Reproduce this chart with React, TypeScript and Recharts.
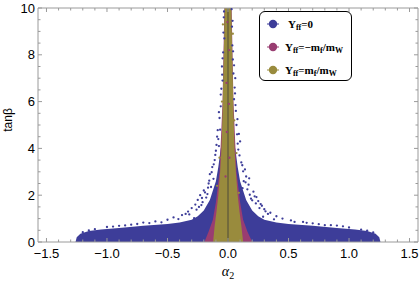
import {
  Area,
  ComposedChart,
  Legend,
  ReferenceLine,
  Scatter,
  XAxis,
  YAxis,
} from "recharts";

const BLUE = "#3d3d99";
const PURPLE = "#993d71";
const OLIVE = "#998b3d";
const FRAME = "#9a9a9a";

// frame ticks
const X_MAJOR = [-1.5, -1, -0.5, 0, 0.5, 1, 1.5];
const X_TICKS = [
  -1.5, -1.4, -1.3, -1.2, -1.1, -1, -0.9, -0.8, -0.7, -0.6, -0.5, -0.4, -0.3,
  -0.2, -0.1, 0, 0.1, 0.2, 0.3, 0.4, 0.5, 0.6, 0.7, 0.8, 0.9, 1, 1.1, 1.2, 1.3,
  1.4, 1.5,
];
const Y_MAJOR = [0, 2, 4, 6, 8, 10];
const Y_TICKS = [
  0, 0.5, 1, 1.5, 2, 2.5, 3, 3.5, 4, 4.5, 5, 5.5, 6, 6.5, 7, 7.5, 8, 8.5, 9,
  9.5, 10,
];

// outline of the dense Y_ff=0 cloud (alpha2, upper tan beta)
const BLUE_X = [
  -1.26, -1.25, -1.22, -1.15, -1.05, -0.9, -0.7, -0.5, -0.4, -0.3, -0.25, -0.2,
  -0.15, -0.1, -0.08, -0.06, 0, 0.06, 0.08, 0.1, 0.15, 0.2, 0.25, 0.3, 0.4,
  0.5, 0.7, 0.9, 1.05, 1.15, 1.22, 1.25, 1.26,
];
const BLUE_Y = [
  0, 0.2, 0.35, 0.47, 0.53, 0.6, 0.69, 0.77, 0.83, 0.95, 1.1, 1.35, 1.8, 2.6,
  3.2, 4.0, 4.6, 4.0, 3.2, 2.6, 1.8, 1.35, 1.1, 0.95, 0.83, 0.77, 0.69, 0.6,
  0.53, 0.47, 0.35, 0.2, 0,
];

// outline of Y_ff = -mf/mW
const PURPLE_X = [
  -0.195, -0.16, -0.125, -0.1, -0.07, -0.045, -0.03, 0.03, 0.045, 0.07, 0.1,
  0.125, 0.16, 0.2,
];
const PURPLE_Y = [0, 0.45, 0.95, 1.7, 3, 6, 10, 10, 6, 3, 1.7, 0.95, 0.45, 0];

// outline of Y_ff = mf/mW
const OLIVE_X = [
  -0.123, -0.11, -0.095, -0.08, -0.065, -0.055, -0.045, -0.04, -0.033, -0.028,
  0.028, 0.033, 0.04, 0.045, 0.055, 0.065, 0.08, 0.095, 0.11, 0.125,
];
const OLIVE_Y = [
  0, 0.7, 1.3, 2, 3, 3.9, 5.5, 6.9, 8.5, 10, 10, 8.5, 6.9, 5.5, 3.9, 3, 2, 1.3,
  0.7, 0,
];

// sparse points around the spike and above the wings
const BLUE_DOTS: [number, number][] = [
  [-0.035, 9.6], [0.033, 9.2], [-0.03, 8.7], [0.036, 8.4], [-0.04, 8.1],
  [0.04, 7.8], [-0.05, 7.5], [0.045, 7.2], [-0.045, 6.9], [0.055, 6.6],
  [-0.06, 6.3], [0.05, 6.1], [0.06, 7.0], [-0.06, 5.8], [0.065, 5.6],
  [-0.07, 5.3], [0.07, 5.0], [-0.065, 4.8], [0.075, 4.6], [-0.08, 4.4],
  [0.08, 4.2], [-0.075, 4.1], [-0.09, 4.5], [0.1, 4.3], [-0.1, 3.9],
  [0.095, 3.7], [-0.11, 3.5], [0.11, 3.4], [-0.13, 3.2], [0.14, 3.1],
  [-0.15, 2.9], [0.15, 2.8], [-0.12, 2.7], [0.13, 2.6], [-0.16, 2.5],
  [0.17, 2.45], [-0.14, 2.35], [0.12, 2.3], [-0.2, 2.2], [0.21, 2.15],
  [-0.23, 2.0], [0.22, 1.95], [-0.18, 1.9], [0.19, 1.85], [-0.25, 1.8],
  [0.25, 1.75], [-0.21, 1.7], [0.23, 1.65], [-0.27, 1.6], [0.28, 1.55],
  [-0.3, 1.45], [0.3, 1.4], [-0.33, 1.3], [0.35, 1.25], [-0.38, 1.15],
  [0.4, 1.1], [-0.45, 1.05], [0.45, 1.0], [-0.6, 0.88], [0.62, 0.86],
  [-0.8, 0.74], [0.8, 0.72], [-1.0, 0.64], [1.0, 0.62], [-0.7, 0.83],
  [0.7, 0.8], [-0.9, 0.69], [0.9, 0.7], [-1.1, 0.55], [1.1, 0.53],
  [-0.17, 2.05], [0.16, 2.25], [-0.24, 1.5], [0.26, 1.45], [-0.35, 1.2],
  [0.33, 1.2], [-0.5, 0.95], [0.52, 0.92],
  [-0.28, 1.02], [0.29, 1.08], [-0.41, 0.98], [0.38, 0.97], [-0.32, 1.18],
  [0.31, 1.31], [-0.26, 1.38], [0.27, 1.62], [-0.22, 1.58], [0.2, 1.78],
  [-0.19, 2.12], [0.18, 2.02], [-0.215, 1.88], [0.235, 1.92], [-0.155, 2.62],
  [0.145, 2.55], [-0.165, 2.32], [0.175, 2.72], [-0.135, 2.98], [0.125, 3.02],
  [-0.118, 3.32], [0.118, 3.28], [-0.105, 3.72], [0.085, 3.95], [-0.095, 4.15],
  [0.09, 4.62], [-0.085, 4.78], [0.078, 5.25], [-0.075, 5.55], [0.062, 5.85],
  [-0.055, 6.55], [0.058, 6.35], [-0.048, 7.15], [0.05, 7.55], [-0.045, 7.85],
  [0.042, 8.15], [-0.038, 8.95], [0.038, 9.45], [-0.033, 9.85], [0.03, 9.95],
  [-1.15, 0.5], [-0.95, 0.66], [-0.75, 0.77], [-0.55, 0.84], [-0.65, 0.81],
  [-0.85, 0.71], [1.15, 0.49], [0.95, 0.67], [0.75, 0.76], [0.55, 0.86],
  [0.65, 0.82], [0.85, 0.72], [-1.2, 0.42], [1.2, 0.41],
];
const PURPLE_DOTS: [number, number][] = [
  [-0.005, 9.4], [0.01, 8.2], [-0.012, 6.8], [0.008, 5.9], [-0.01, 4.7],
  [0.012, 3.6], [-0.02, 2.8],
];
const OLIVE_DOTS: [number, number][] = [
  [-0.042, 9.3], [0.04, 8.9], [-0.05, 6.0], [0.052, 5.2], [-0.07, 3.6],
  [0.07, 3.8], [-0.09, 2.4], [0.09, 2.1],
];

const SERIES_LABELS: [string, boolean][][] = [
  [["Y", false], ["ff", true], ["=0", false]],
  [["Y", false], ["ff", true], ["=\u2212m", false], ["f", true], ["/m", false], ["W", true]],
  [["Y", false], ["ff", true], ["=m", false], ["f", true], ["/m", false], ["W", true]],
];
const SERIES_COLORS = [BLUE, PURPLE, OLIVE];

const toRows = (xs: number[], ys: number[]) => xs.map((x, i) => ({ x, y: ys[i] }));
const toPts = (pts: [number, number][]) => pts.map(([x, y]) => ({ x, y }));

const isMajor = (list: number[], v: number) =>
  list.some((m) => Math.abs(m - v) < 1e-6);

const fmtX = (v: number) => {
  const s = Math.abs(v).toFixed(1);
  return v < -1e-9 ? `\u2212${s}` : s;
};

const tickFont = { fontFamily: "'Liberation Sans', Arial, sans-serif", fontSize: 13 };

function BottomTick({ x, y, payload }: any) {
  const major = isMajor(X_MAJOR, payload.value);
  return (
    <g>
      <line x1={x} x2={x} y1={y} y2={y - (major ? 4 : 2.5)} stroke={FRAME} />
      {major && (
        <text x={x} y={y + 16} textAnchor="middle" fill="#000" {...tickFont}>
          {fmtX(payload.value)}
        </text>
      )}
    </g>
  );
}

function TopTick({ x, y, payload }: any) {
  const major = isMajor(X_MAJOR, payload.value);
  return <line x1={x} x2={x} y1={y} y2={y + (major ? 4 : 2.5)} stroke={FRAME} />;
}

function LeftTick({ x, y, payload }: any) {
  const major = isMajor(Y_MAJOR, payload.value);
  return (
    <g>
      <line x1={x} x2={x + (major ? 4 : 2.5)} y1={y} y2={y} stroke={FRAME} />
      {major && (
        <text x={x - 3} y={y + 4.5} textAnchor="end" fill="#000" {...tickFont}>
          {payload.value}
        </text>
      )}
    </g>
  );
}

function RightTick({ x, y, payload }: any) {
  const major = isMajor(Y_MAJOR, payload.value);
  return <line x1={x} x2={x - (major ? 4 : 2.5)} y1={y} y2={y} stroke={FRAME} />;
}

const dot = (color: string) => (p: any) =>
  <circle cx={p.cx} cy={p.cy} r={1.15} fill={color} />;

function LegendBox() {
  return (
    <div
      style={{
        width: 91,
        height: 68,
        border: "1px solid #000",
        borderRadius: 6,
        background: "#fff",
        fontFamily: "'Liberation Serif', 'Times New Roman', serif",
        fontWeight: "bold",
        fontSize: 11,
        color: "#000",
      }}
    >
      {SERIES_LABELS.map((parts, i) => (
        <div
          key={i}
          style={{ height: 23, display: "flex", alignItems: "center", whiteSpace: "nowrap" }}
        >
          <svg width={25} height={12} style={{ flex: "none" }}>
            <line x1={7} x2={19} y1={6} y2={6} stroke={SERIES_COLORS[i]} />
            <circle cx={13} cy={6} r={4.2} fill={SERIES_COLORS[i]} />
          </svg>
          <span style={{ marginLeft: i === 0 ? 3 : 0 }}>
            {parts.map(([t, sub], j) =>
              sub ? (
                <span key={j} style={{ fontSize: 8, position: "relative", top: 2 }}>
                  {t}
                </span>
              ) : (
                <span key={j}>{t}</span>
              )
            )}
          </span>
        </div>
      ))}
    </div>
  );
}

export default function App() {
  return (
    <div style={{ position: "absolute", left: 0, top: 0, background: "#fff" }}>
      <ComposedChart
        width={420}
        height={282}
        margin={{ top: 0, right: 0, bottom: 0, left: 0 }}
      >
        <XAxis
          type="number"
          dataKey="x"
          domain={[-1.57, 1.57]}
          allowDataOverflow
          ticks={X_TICKS}
          interval={0}
          height={40}
          tickSize={0}
          tickMargin={0}
          tickLine={false}
          stroke={FRAME}
          tick={<BottomTick />}
          label={{
            content: ({ viewBox }: any) => (
              <text
                x={viewBox.x + viewBox.width / 2}
                y={viewBox.y + 34}
                textAnchor="middle"
                fontFamily="'Liberation Serif', 'Times New Roman', serif"
                fontStyle="italic"
                fontSize={14}
                fill="#000"
              >
                α<tspan fontSize={10} dy={3} fontStyle="normal">2</tspan>
              </text>
            ),
          }}
        />
        <XAxis
          xAxisId="top"
          orientation="top"
          type="number"
          dataKey="x"
          domain={[-1.57, 1.57]}
          allowDataOverflow
          ticks={X_TICKS}
          interval={0}
          height={8}
          tickSize={0}
          tickMargin={0}
          tickLine={false}
          stroke={FRAME}
          tick={<TopTick />}
        />
        <YAxis
          type="number"
          domain={[0, 10]}
          allowDataOverflow
          ticks={Y_TICKS}
          interval={0}
          width={38}
          tickSize={0}
          tickMargin={0}
          tickLine={false}
          stroke={FRAME}
          tick={<LeftTick />}
          label={{
            content: ({ viewBox }: any) => {
              const cy = viewBox.y + viewBox.height / 2 - 5;
              return (
                <text
                  x={11.5}
                  y={cy}
                  transform={`rotate(-90 11.5 ${cy})`}
                  textAnchor="middle"
                  fontFamily="'Liberation Sans', Arial, sans-serif"
                  fontSize={12}
                  fill="#000"
                >
                  tanβ
                </text>
              );
            },
          }}
        />
        <YAxis
          yAxisId="right"
          orientation="right"
          type="number"
          domain={[0, 10]}
          allowDataOverflow
          ticks={Y_TICKS}
          interval={0}
          width={2}
          tickSize={0}
          tickMargin={0}
          tickLine={false}
          stroke={FRAME}
          tick={<RightTick />}
        />
        <Area
          data={toRows(BLUE_X, BLUE_Y)}
          dataKey="y"
          type="linear"
          stroke="none"
          fill={BLUE}
          fillOpacity={1}
          isAnimationActive={false}
          name="Yff=0"
        />
        <Scatter
          data={toPts(BLUE_DOTS)}
          dataKey="y"
          fill={BLUE}
          shape={dot(BLUE)}
          isAnimationActive={false}
          legendType="none"
        />
        <Area
          data={toRows(PURPLE_X, PURPLE_Y)}
          dataKey="y"
          type="linear"
          stroke="none"
          fill={PURPLE}
          fillOpacity={1}
          isAnimationActive={false}
          name="Yff=-mf/mW"
        />
        <Area
          data={toRows(OLIVE_X, OLIVE_Y)}
          dataKey="y"
          type="linear"
          stroke="none"
          fill={OLIVE}
          fillOpacity={1}
          isAnimationActive={false}
          name="Yff=mf/mW"
        />
        <Scatter
          data={toPts(OLIVE_DOTS)}
          dataKey="y"
          fill={OLIVE}
          shape={dot(OLIVE)}
          isAnimationActive={false}
          legendType="none"
        />
        <Scatter
          data={toPts(PURPLE_DOTS)}
          dataKey="y"
          fill={PURPLE}
          shape={dot(PURPLE)}
          isAnimationActive={false}
          legendType="none"
        />
        <ReferenceLine x={0} stroke="#3a3a3a" strokeWidth={0.8} />
        <Legend
          layout="vertical"
          align="center"
          verticalAlign="middle"
          wrapperStyle={{ left: 259, top: 11, width: 93, height: 70 }}
          content={() => <LegendBox />}
        />
      </ComposedChart>
    </div>
  );
}
